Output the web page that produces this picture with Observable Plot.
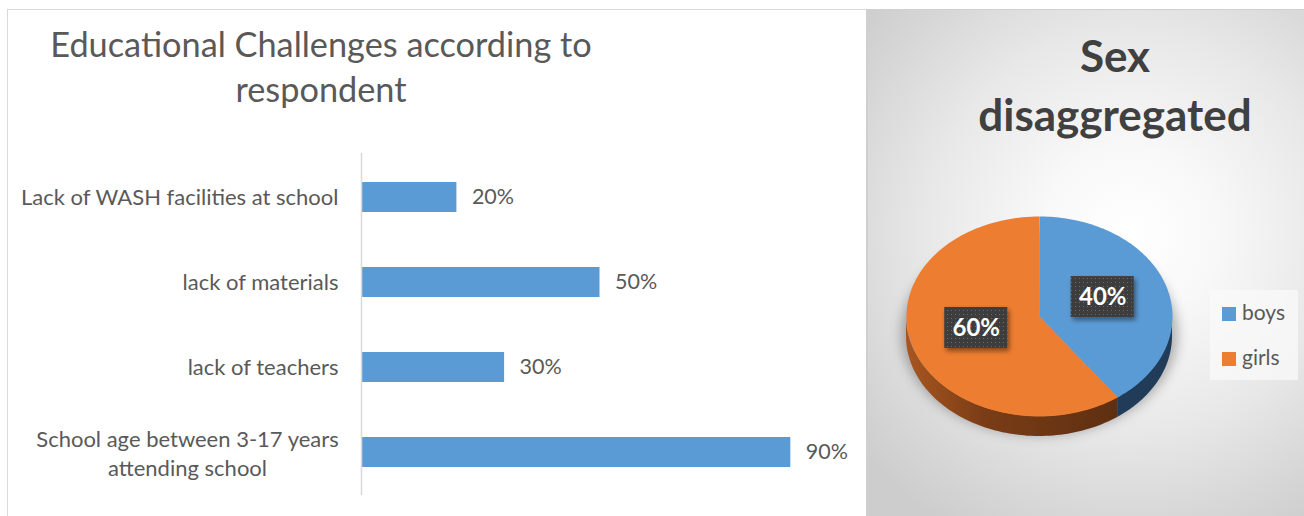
<!DOCTYPE html>
<html>
<head>
<meta charset="utf-8">
<script src="https://cdn.jsdelivr.net/npm/d3@7"></script>
<script src="https://cdn.jsdelivr.net/npm/@observablehq/plot@0.6"></script>
<style>
  html, body { margin: 0; padding: 0; background: #fff; }
  body { width: 1304px; height: 516px; overflow: hidden; position: relative; font-family: Lato, "Open Sans", sans-serif; }
  #frame { position: absolute; left: 7px; top: 9px; width: 1297px; height: 507px; border-left: 1px solid #d9d9d9; border-top: 1px solid #d9d9d9; box-sizing: border-box; }
  #title { position: absolute; left: 0; width: 642px; top: 21px; text-align: center; font-size: 34.3px; line-height: 45px; color: #595959; font-weight: 400; }
  #bars { position: absolute; left: 0; top: 140px; }
  #right { position: absolute; left: 866px; top: 9px; width: 438px; height: 507px; border-left: 2px solid #cfcfcf; border-top: 1px solid #d0d0d0; box-sizing: border-box;
    background: radial-gradient(ellipse 80% 68% at 60% 44%, #ffffff 0%, #f8f8f8 25%, #e8e8e8 58%, #d6d6d6 85%, #cdcdcd 100%); }
  #pie { position: absolute; left: 866px; top: 9px; }
  #ptitle { position: absolute; left: 915px; width: 400px; top: 26px; text-align: center; font-size: 44px; line-height: 58.5px; font-weight: 700; color: #404040; }
  #legend { position: absolute; left: 1210px; top: 290px; width: 88px; height: 90px; background: rgba(250,250,250,0.75); }
  .sw { position: absolute; left: 12px; width: 14px; height: 14px; }
  .lt { position: absolute; left: 32px; font-size: 21px; line-height: 24px; color: #595959; }
</style>
</head>
<body>
<div id="frame"></div>
<div id="title">Educational Challenges according to<br>respondent</div>
<div id="bars"></div>
<div id="right"></div>
<div id="ptitle">Sex<br>disaggregated</div>
<div id="pie"></div>
<div id="legend"></div>
<script>
// ---- data ----
const challengeCategories = [
  "Lack of WASH facilities at school",
  "lack of materials",
  "lack of teachers",
  "School age between 3-17 years\nattending school"
];
const challengeValues = [0.20, 0.50, 0.30, 0.90];

const sexLabels = ["boys", "girls"];
const sexValues = [0.40, 0.60];
const sexColors = ["#5B9BD5", "#ED7D31"];

// ---- bar chart ----
const barData = challengeCategories.map((c, i) => ({cat: c, value: challengeValues[i]}));
const pct = d3.format(".0%");
const textColor = "#595959";
const fontFamily = "Lato, 'Open Sans', sans-serif";

const bars = Plot.plot({
  width: 862, height: 376,
  marginLeft: 361, marginRight: 24, marginTop: 13, marginBottom: 21,
  style: {background: "transparent", fontFamily},
  x: {domain: [0, 1], axis: null},
  y: {domain: challengeCategories, paddingInner: 0.65, paddingOuter: 0.325, axis: null},
  marks: [
    Plot.barX(barData, {x: "value", y: "cat", fill: "#5B9BD5"}),
    Plot.ruleX([0], {stroke: "#d9d9d9", strokeWidth: 1.5}),
    Plot.text(barData, {x: "value", y: "cat", text: d => pct(d.value), dx: 15, textAnchor: "start", fontSize: 21.5, fill: textColor}),
    Plot.text(barData.filter(d => !d.cat.includes("\n")), {x: 0, y: "cat", text: "cat", dx: -23, textAnchor: "end", fontSize: 22, fill: textColor}),
    Plot.text(barData.filter(d => d.cat.includes("\n")), {x: 0, y: "cat", text: "cat", dx: -174, textAnchor: "middle", lineHeight: 1.3, fontSize: 22, fill: textColor})
  ]
});
document.getElementById("bars").appendChild(bars);

// ---- pie chart (tilted 3D look) ----
const sexData = sexLabels.map((k, i) => ({key: k, value: sexValues[i]}));
const arcs = d3.pie().sort(null).value(d => d.value)(sexData);
const depth = 0.2;

function arcPts(a0, a1, n) {
  const pts = [];
  for (let i = 0; i <= n; i++) {
    const t = a0 + (a1 - a0) * i / n;
    pts.push({t, x: Math.sin(t), y: Math.cos(t)});
  }
  return pts;
}
const topPts = arcs.flatMap(a => [
  {key: a.data.key, x: 0, y: 0},
  ...arcPts(a.startAngle, a.endAngle, 120).map(p => ({key: a.data.key, x: p.x, y: p.y})),
  {key: a.data.key, x: 0, y: 0}
]);
const sidePts = arcs.flatMap(a => {
  const s = Math.max(a.startAngle, Math.PI / 2), e = Math.min(a.endAngle, 3 * Math.PI / 2);
  if (e <= s) return [];
  return arcPts(s, e, 80).map(p => ({key: a.data.key, x: p.x, y1: p.y, y2: p.y - depth}));
});
const shadowPts = arcPts(0, 2 * Math.PI, 120).map(p => ({x: p.x * 1.04, y: p.y * 1.02 - 0.17}));
const labelPts = arcs.map(a => {
  const m = (a.startAngle + a.endAngle) / 2;
  return {key: a.data.key, text: pct(a.data.value), x: 0.5 * Math.sin(m), y: 0.5 * Math.cos(m) + 0.04};
});
const bw = 0.237, bh = 0.205;

const pie = Plot.plot({
  width: 438, height: 507, margin: 0,
  style: {background: "transparent", overflow: "visible"},
  x: {domain: [-1, 1], range: [40, 306], axis: null},
  y: {domain: [-1, 1], range: [407, 207], axis: null},
  color: {domain: sexLabels, range: sexColors},
  marks: [
    Plot.line(shadowPts, {x: "x", y: "y", fill: "#000", fillOpacity: 0.28, stroke: null}),
    Plot.areaY(sidePts.filter(d => d.key === "boys"), {x: "x", y1: "y1", y2: "y2", fill: "#203C58"}),
    Plot.areaY(sidePts.filter(d => d.key === "girls"), {x: "x", y1: "y1", y2: "y2", fill: "url(#girlSide)"}),
    Plot.line(topPts, {x: "x", y: "y", z: "key", fill: "key", stroke: null}),
    Plot.rect(labelPts, {x1: d => d.x - bw, x2: d => d.x + bw, y1: d => d.y - bh, y2: d => d.y + bh, fill: "url(#dots)"}),
    Plot.text(labelPts, {x: "x", y: "y", text: "text", fill: "white", fontSize: 24, fontWeight: "bold", fontFamily})
  ]
});
const psvg = d3.select(pie);
const defs = psvg.insert("defs", ":first-child");
const g = defs.append("linearGradient").attr("id", "girlSide").attr("gradientUnits", "userSpaceOnUse")
  .attr("x1", 40).attr("x2", 260).attr("y1", 0).attr("y2", 0);
g.append("stop").attr("offset", "0%").attr("stop-color", "#A8561F");
g.append("stop").attr("offset", "35%").attr("stop-color", "#7A3D16");
g.append("stop").attr("offset", "100%").attr("stop-color", "#5C2E11");
const pat = defs.append("pattern").attr("id", "dots").attr("patternUnits", "userSpaceOnUse").attr("width", 4).attr("height", 4);
pat.append("rect").attr("width", 4).attr("height", 4).attr("fill", "#3E3E3E");
pat.append("rect").attr("x", 1).attr("y", 1).attr("width", 1).attr("height", 1).attr("fill", "#6A6A6A");
const blur = defs.append("filter").attr("id", "blur").attr("x", "-20%").attr("y", "-20%").attr("width", "140%").attr("height", "140%");
blur.append("feGaussianBlur").attr("stdDeviation", 6);
const ds = defs.append("filter").attr("id", "ds").attr("x", "-30%").attr("y", "-30%").attr("width", "160%").attr("height", "160%");
ds.append("feDropShadow").attr("dx", 2).attr("dy", 3).attr("stdDeviation", 2.5).attr("flood-color", "#000").attr("flood-opacity", 0.45);
const groups = pie.querySelectorAll(":scope > g");
groups[0].setAttribute("filter", "url(#blur)");
groups[4].setAttribute("filter", "url(#ds)");
document.getElementById("pie").appendChild(pie);

// ---- legend ----
const legend = document.getElementById("legend");
sexLabels.forEach((k, i) => {
  const sw = document.createElement("div");
  sw.className = "sw"; sw.style.top = (17 + i * 45) + "px"; sw.style.background = sexColors[i];
  const t = document.createElement("div");
  t.className = "lt"; t.style.top = (10 + i * 45) + "px"; t.textContent = k;
  legend.appendChild(sw); legend.appendChild(t);
});
</script>
</body>
</html>
